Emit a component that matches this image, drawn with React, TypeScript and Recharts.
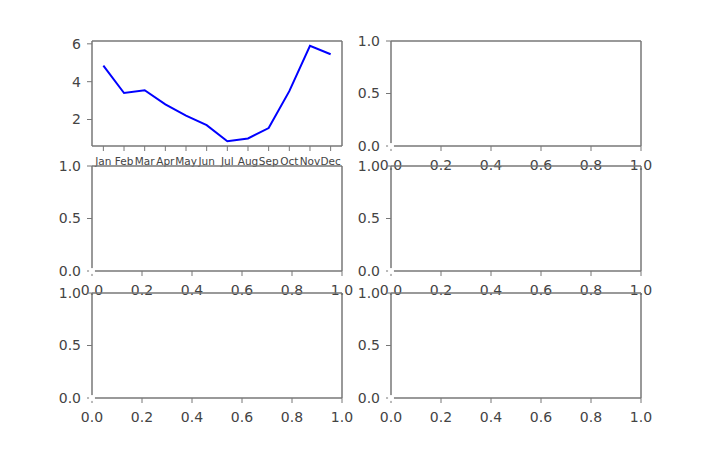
import React from 'react';
import { LineChart, Line, XAxis, YAxis } from 'recharts';

// monthly series in the top-left panel
const months = ['Jan', 'Feb', 'Mar', 'Apr', 'May', 'Jun', 'Jul', 'Aug', 'Sep', 'Oct', 'Nov', 'Dec'];
const monthValues = [4.85, 3.4, 3.55, 2.8, 2.2, 1.7, 0.85, 1.0, 1.55, 3.5, 5.9, 5.45];
const monthTicksY = [2, 4, 6];

// the empty panels use matplotlib's default 0..1 axes
const unitTicksX = [0, 0.2, 0.4, 0.6, 0.8, 1.0];
const unitTicksY = [0, 0.5, 1.0];

const PLOT_W = 250;
const PLOT_H = 105;
const COLS = [92, 391];
const ROWS = [41, 166, 293];
const Y_AXIS_W = 50;
const X_AXIS_H = 35;
const PAD = 10;

const SPINE = '#777';
const SPINE_W = 1.5;
const TEXT = '#444';
const FONT = '"DejaVu Sans", sans-serif';

const monthData = months.map((m, i) => ({ i, name: m, value: monthValues[i] }));

function Frame({ left, top, children, data }: { left: number; top: number; children: React.ReactNode; data: any[] }) {
  return (
    <div style={{ position: 'absolute', left: left - Y_AXIS_W, top: top - PAD }}>
      <LineChart
        width={Y_AXIS_W + PLOT_W + PAD}
        height={PAD + PLOT_H + X_AXIS_H}
        data={data}
        margin={{ top: PAD - 1, right: PAD - 1, left: 0, bottom: 0 }}
      >
        {children}
      </LineChart>
    </div>
  );
}

function boxAxes() {
  // top and right spines, no ticks
  return [
    <XAxis key="xt" xAxisId="top" orientation="top" type="number" domain={[0, 1]} height={1}
      tick={false} tickLine={false} axisLine={{ stroke: SPINE, strokeWidth: SPINE_W }} />,
    <YAxis key="yr" yAxisId="right" orientation="right" type="number" domain={[0, 1]} width={1}
      tick={false} tickLine={false} axisLine={{ stroke: SPINE, strokeWidth: SPINE_W }} />,
  ];
}

function EmptyPanel({ left, top }: { left: number; top: number }) {
  return (
    <Frame left={left} top={top} data={[{ x: 0, y: 0 }]}>
      <XAxis
        dataKey="x"
        type="number"
        domain={[0, 1]}
        ticks={unitTicksX}
        tickFormatter={(v: number) => v.toFixed(1)}
        height={X_AXIS_H}
        tickSize={5}
        tickMargin={9}
        interval={0}
        stroke={SPINE}
        axisLine={{ stroke: SPINE, strokeWidth: SPINE_W }}
        tick={{ fill: TEXT, fontSize: 14, fontFamily: FONT }}
      />
      <YAxis
        type="number"
        domain={[0, 1]}
        ticks={unitTicksY}
        tickFormatter={(v: number) => v.toFixed(1)}
        width={Y_AXIS_W}
        tickSize={5}
        tickMargin={6}
        interval={0}
        stroke={SPINE}
        axisLine={{ stroke: SPINE, strokeWidth: SPINE_W }}
        tick={{ fill: TEXT, fontSize: 14, fontFamily: FONT }}
      />
      {boxAxes()}
      <Line dataKey="y" stroke="none" dot={false} isAnimationActive={false} />
    </Frame>
  );
}

function MonthPanel({ left, top }: { left: number; top: number }) {
  return (
    <Frame left={left} top={top} data={monthData}>
      <XAxis
        dataKey="i"
        type="number"
        domain={[-0.55, 11.55]}
        ticks={months.map((_, i) => i)}
        tickFormatter={(v: number) => months[v]}
        height={X_AXIS_H}
        tickSize={5}
        tickMargin={7}
        interval={0}
        stroke={SPINE}
        axisLine={{ stroke: SPINE, strokeWidth: SPINE_W }}
        tick={{ fill: TEXT, fontSize: 10.5, fontFamily: FONT }}
      />
      <YAxis
        type="number"
        domain={[0.6, 6.15]}
        ticks={monthTicksY}
        width={Y_AXIS_W}
        tickSize={5}
        tickMargin={6}
        interval={0}
        stroke={SPINE}
        axisLine={{ stroke: SPINE, strokeWidth: SPINE_W }}
        tick={{ fill: TEXT, fontSize: 14, fontFamily: FONT }}
      />
      {boxAxes()}
      <Line dataKey="value" stroke="#0000ff" strokeWidth={2} dot={false} isAnimationActive={false} />
    </Frame>
  );
}

export default function App() {
  return (
    <div style={{ position: 'absolute', left: 0, top: 0, width: 720, height: 468, background: '#fff', overflow: 'hidden' }}>
      <style>{'svg { overflow: visible; }'}</style>
      {ROWS.map((top, r) =>
        COLS.map((left, c) =>
          r === 0 && c === 0 ? (
            <MonthPanel key={`${r}-${c}`} left={left} top={top} />
          ) : (
            <EmptyPanel key={`${r}-${c}`} left={left} top={top} />
          )
        )
      )}
    </div>
  );
}
